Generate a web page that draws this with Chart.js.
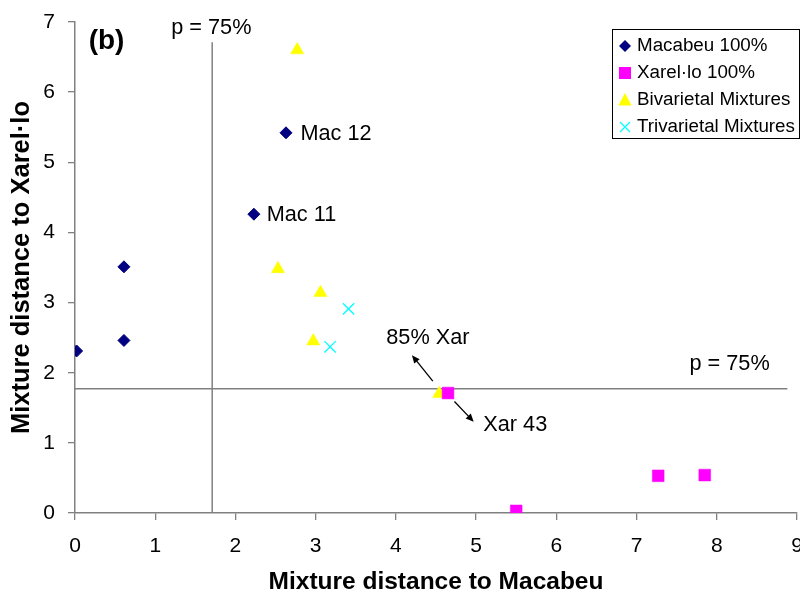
<!DOCTYPE html>
<html>
<head>
<meta charset="utf-8">
<script src="https://cdn.jsdelivr.net/npm/chart.js@4/dist/chart.umd.min.js"></script>
<style>
  html, body { margin: 0; padding: 0; background: #fff; }
  #wrap { width: 800px; height: 592px; }
</style>
</head>
<body>
<div id="wrap"><canvas id="distChart" width="800" height="592"></canvas></div>
<script>
// series values
const macX = [0.02, 0.61, 0.61, 2.23, 2.63];
const macY = [2.31, 3.51, 2.46, 4.26, 5.42];
const xarX = [4.65, 5.50, 7.27, 7.85];
const xarY = [1.71, 0.03, 0.53, 0.54];
const biX = [2.77, 2.53, 3.06, 2.97, 4.54];
const biY = [6.60, 3.48, 3.14, 2.45, 1.70];
const triX = [3.41, 3.18];
const triY = [2.91, 2.37];

const seriesNames = ['Macabeu 100%', 'Xarel\u00b7lo 100%', 'Bivarietal Mixtures', 'Trivarietal Mixtures'];

// p = 75% thresholds
const pLimitX = 1.71;
const pLimitY = 1.77;

const xTicks = [0, 1, 2, 3, 4, 5, 6, 7, 8, 9];
const yTicks = [0, 1, 2, 3, 4, 5, 6, 7];

const FONT = 'Arial, "Liberation Sans", sans-serif';

function pts(xs, ys) {
    return xs.map((x, i) => ({ x: x, y: ys[i] }));
}

// text notes and arrows, placed in data units
const notes = [
    { text: '(b)', x: 0.17, y: 6.73, bold: true, size: 28 },
    { text: 'p = 75%', x: 1.20, y: 6.92 },
    { text: 'p = 75%', x: 7.66, y: 2.12 },
    { text: 'Mac 12', x: 2.81, y: 5.41 },
    { text: 'Mac 11', x: 2.39, y: 4.25 },
    { text: '85% Xar', x: 3.88, y: 2.50 },
    { text: 'Xar 43', x: 5.09, y: 1.25 }
];
const arrows = [
    { x1: 4.46, y1: 1.88, x2: 4.20, y2: 2.25 },
    { x1: 4.73, y1: 1.59, x2: 4.97, y2: 1.30 }
];

function drawMarker(ctx, style, x, y, r, color) {
    ctx.fillStyle = color;
    ctx.strokeStyle = color;
    ctx.beginPath();
    if (style === 'rectRot') {
        ctx.moveTo(x, y - r); ctx.lineTo(x + r, y); ctx.lineTo(x, y + r); ctx.lineTo(x - r, y);
        ctx.closePath(); ctx.fill();
    } else if (style === 'rect') {
        ctx.rect(x - r, y - r, 2 * r, 2 * r); ctx.fill();
    } else if (style === 'triangle') {
        ctx.moveTo(x, y - r); ctx.lineTo(x + r * 0.95, y + r * 0.8); ctx.lineTo(x - r * 0.95, y + r * 0.8);
        ctx.closePath(); ctx.fill();
    } else if (style === 'crossRot') {
        ctx.lineWidth = 1.3;
        ctx.moveTo(x - r, y - r); ctx.lineTo(x + r, y + r);
        ctx.moveTo(x + r, y - r); ctx.lineTo(x - r, y + r);
        ctx.stroke();
    }
}

const notesPlugin = {
    id: 'notes',
    afterDatasetsDraw(chart) {
        const ctx = chart.ctx;
        const xs = chart.scales.x, ys = chart.scales.y;
        ctx.save();
        ctx.fillStyle = '#000';
        ctx.textAlign = 'left';
        ctx.textBaseline = 'middle';
        notes.forEach(n => {
            ctx.font = (n.bold ? 'bold ' : '') + (n.size || 21.7) + 'px ' + FONT;
            ctx.fillText(n.text, xs.getPixelForValue(n.x), ys.getPixelForValue(n.y));
        });
        ctx.strokeStyle = '#000';
        ctx.lineWidth = 1.3;
        arrows.forEach(a => {
            const x1 = xs.getPixelForValue(a.x1), y1 = ys.getPixelForValue(a.y1);
            const x2 = xs.getPixelForValue(a.x2), y2 = ys.getPixelForValue(a.y2);
            const ang = Math.atan2(y2 - y1, x2 - x1);
            const hl = 8, hw = 3.5;
            ctx.beginPath();
            ctx.moveTo(x1, y1);
            ctx.lineTo(x2 - Math.cos(ang) * hl * 0.8, y2 - Math.sin(ang) * hl * 0.8);
            ctx.stroke();
            ctx.beginPath();
            ctx.moveTo(x2, y2);
            ctx.lineTo(x2 - Math.cos(ang) * hl - Math.sin(ang) * hw, y2 - Math.sin(ang) * hl + Math.cos(ang) * hw);
            ctx.lineTo(x2 - Math.cos(ang) * hl + Math.sin(ang) * hw, y2 - Math.sin(ang) * hl - Math.cos(ang) * hw);
            ctx.closePath();
            ctx.fill();
        });
        ctx.restore();
    }
};

const legendPlugin = {
    id: 'boxLegend',
    afterDraw(chart) {
        const ctx = chart.ctx;
        const area = chart.chartArea;
        const w = 188, h = 110;
        const left = area.right - w + 3, top = area.top + 7;
        ctx.save();
        ctx.fillStyle = '#fff';
        ctx.fillRect(left, top, w, h);
        ctx.strokeStyle = '#000';
        ctx.lineWidth = 1;
        ctx.strokeRect(left + 0.5, top + 0.5, w - 1, h - 1);
        const items = chart.data.datasets.filter(d => !d.refLine);
        const sizes = { rectRot: 6, rect: 6, triangle: 7, crossRot: 5 };
        items.forEach((d, i) => {
            const cy = top + 17 + i * 27;
            drawMarker(ctx, d.pointStyle, left + 13, cy, sizes[d.pointStyle], d.legendColor);
            ctx.fillStyle = '#000';
            ctx.font = '18.8px ' + FONT;
            ctx.textAlign = 'left';
            ctx.textBaseline = 'middle';
            ctx.fillText(d.label, left + 25, cy);
        });
        ctx.restore();
    }
};

const ctx = document.getElementById('distChart').getContext('2d');

const chart = new Chart(ctx, {
    type: 'scatter',
    data: {
        datasets: [
            {
                label: seriesNames[0], data: pts(macX, macY), order: 3,
                pointStyle: 'rectRot', pointRadius: 6, backgroundColor: '#000080',
                borderColor: '#000080', borderWidth: 1, legendColor: '#000080'
            },
            {
                label: seriesNames[1], data: pts(xarX, xarY), order: 1,
                pointStyle: 'rect', pointRadius: 8.3, backgroundColor: '#ff00ff',
                borderColor: '#ff00ff', borderWidth: 0.5, legendColor: '#ff00ff'
            },
            {
                label: seriesNames[2], data: pts(biX, biY), order: 2,
                pointStyle: 'triangle', pointRadius: 7.6, backgroundColor: '#ffff00',
                borderColor: '#ffff00', borderWidth: 0.5, legendColor: '#ffff00'
            },
            {
                label: seriesNames[3], data: pts(triX, triY), order: 0,
                pointStyle: 'crossRot', pointRadius: 8, backgroundColor: '#00ffff',
                borderColor: '#00ffff', borderWidth: 1.3, legendColor: '#00ffff'
            },
            {
                label: 'p vertical', refLine: true, order: 10, showLine: true,
                data: [{ x: pLimitX, y: 0 }, { x: pLimitX, y: 6.71 }],
                borderColor: '#808080', borderWidth: 1.5, pointRadius: 0
            },
            {
                label: 'p horizontal', refLine: true, order: 10, showLine: true,
                data: [{ x: 0, y: pLimitY }, { x: 8.88, y: pLimitY }],
                borderColor: '#808080', borderWidth: 1.5, pointRadius: 0
            }
        ]
    },
    options: {
        responsive: false,
        animation: false,
        events: [],
        layout: { autoPadding: false, padding: { top: 22, right: 3, left: 0, bottom: 0 } },
        plugins: {
            legend: { display: false },
            tooltip: { enabled: false }
        },
        scales: {
            x: {
                type: 'linear', min: 0, max: 9,
                afterFit: s => { s.height = 79; s.paddingLeft = 0; s.paddingRight = 0; },
                afterBuildTicks: s => { s.ticks = xTicks.map(v => ({ value: v })); },
                grid: { drawOnChartArea: false, tickLength: 7, color: '#808080', lineWidth: 1.3 },
                border: { color: '#808080', width: 1.5 },
                ticks: { color: '#000', font: { family: FONT, size: 21 }, padding: 14, maxRotation: 0 },
                title: {
                    display: true, text: 'Mixture distance to Macabeu', color: '#000',
                    font: { family: FONT, size: 24.5, weight: 'bold', lineHeight: 0.8 }, padding: 0
                }
            },
            y: {
                type: 'linear', min: 0, max: 7,
                afterFit: s => { s.width = 75; s.paddingTop = 0; s.paddingBottom = 0; },
                afterBuildTicks: s => { s.ticks = yTicks.map(v => ({ value: v })); },
                grid: { drawOnChartArea: false, tickLength: 7, color: '#808080', lineWidth: 1.3 },
                border: { color: '#808080', width: 1.5 },
                ticks: { color: '#000', font: { family: FONT, size: 21 }, padding: 13 },
                title: {
                    display: true, text: 'Mixture distance to Xarel\u00b7lo', color: '#000',
                    font: { family: FONT, size: 25.5, weight: 'bold', lineHeight: 1 }, padding: { top: 9.5 }
                }
            }
        }
    },
    plugins: [notesPlugin, legendPlugin]
});
</script>
</body>
</html>
